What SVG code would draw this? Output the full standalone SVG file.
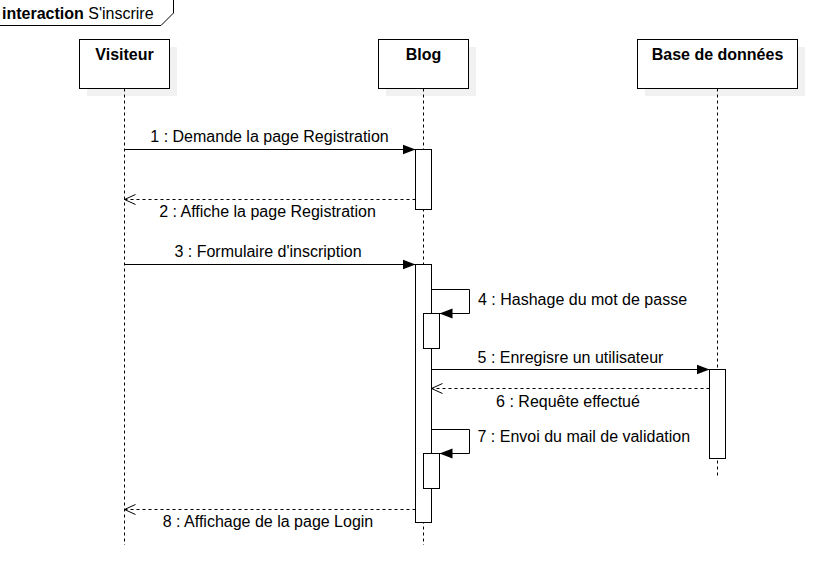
<svg xmlns="http://www.w3.org/2000/svg" width="819" height="564" viewBox="0 0 819 564">
  <style>
    text { font-family: "Liberation Sans", Arial, Helvetica, sans-serif; font-size: 16px; fill: #000; }
    .title { font-weight: bold; text-anchor: middle; }
    .lbl { text-anchor: middle; }
    .lbls { text-anchor: start; }
    .box { fill: #fff; stroke: #000; stroke-width: 1; }
    .shadow { fill: #f1f1f1; stroke: none; }
    .life { stroke: #000; stroke-width: 1; stroke-dasharray: 3 3; fill: none; }
    .act { fill: #fff; stroke: #000; stroke-width: 1; }
    .msg { stroke: #000; stroke-width: 1; fill: none; marker-end: url(#block); }
    .ret { stroke: #000; stroke-width: 1; fill: none; stroke-dasharray: 3 3; marker-end: url(#open); }
  </style>
  <defs>
    <marker id="block" markerUnits="userSpaceOnUse" markerWidth="14" markerHeight="12" refX="13" refY="5" orient="auto" viewBox="0 0 14 10">
      <path d="M0,0 L13,5 L0,10 z" fill="#000" stroke="none"/>
    </marker>
    <marker id="open" markerUnits="userSpaceOnUse" markerWidth="14" markerHeight="14" refX="12" refY="6" orient="auto" viewBox="0 0 14 12">
      <path d="M1,1 L12,6 L1,11" fill="none" stroke="#000" stroke-width="1" stroke-dasharray="none"/>
    </marker>
  </defs>

  <rect width="819" height="564" fill="#fff"/>

  <g id="frame">
    <path d="M-1,-1 L173.5,-1 L173.5,13 L161,25.5 L-1,25.5 Z" fill="#fff" stroke="#000" stroke-width="1"/>
    <text x="2" y="18.5"><tspan font-weight="bold">interaction</tspan> S'inscrire</text>
  </g>

  <g id="visiteur">
    <rect class="shadow" x="87" y="47" width="90" height="49"/>
    <line class="life" x1="124.5" y1="88.5" x2="124.5" y2="545"/>
    <rect class="box" x="79.5" y="39.5" width="90" height="49"/>
    <text class="title" x="124.5" y="60">Visiteur</text>
  </g>

  <g id="blog">
    <rect class="shadow" x="386" y="47" width="90" height="49"/>
    <line class="life" x1="423.5" y1="88.5" x2="423.5" y2="545"/>
    <rect class="box" x="378.5" y="39.5" width="90" height="49"/>
    <text class="title" x="423.5" y="60">Blog</text>
  </g>

  <g id="bdd">
    <rect class="shadow" x="645" y="47" width="160" height="49"/>
    <line class="life" x1="717.5" y1="88.5" x2="717.5" y2="476"/>
    <rect class="box" x="637.5" y="39.5" width="160" height="49"/>
    <text class="title" x="717.5" y="60">Base de données</text>
  </g>

  <g id="activations">
    <rect class="act" x="415.5" y="149.5" width="16" height="60"/>
    <rect class="act" x="415.5" y="264.5" width="16" height="258"/>
    <rect class="act" x="423.5" y="313.5" width="16" height="35"/>
    <rect class="act" x="423.5" y="453.5" width="16" height="35"/>
    <rect class="act" x="709.5" y="369.5" width="16" height="89"/>
  </g>

  <g id="connectors">
    <line class="msg" x1="124.5" y1="149.5" x2="415.5" y2="149.5"/>
    <line class="ret" x1="415.5" y1="199.5" x2="124.5" y2="199.5"/>
    <line class="msg" x1="124.5" y1="264.5" x2="415.5" y2="264.5"/>
    <path class="msg" d="M431.5,289.5 H469.5 V313.5 H439.5"/>
    <line class="msg" x1="431.5" y1="369.5" x2="709.5" y2="369.5"/>
    <line class="ret" x1="709.5" y1="388.5" x2="431.5" y2="388.5"/>
    <path class="msg" d="M431.5,429.5 H469.5 V453.5 H439.5"/>
    <line class="ret" x1="415.5" y1="509.5" x2="124.5" y2="509.5"/>
  </g>

  <g id="labels">
    <text class="lbl" x="269.5" y="142">1 : Demande la page Registration</text>
    <text class="lbl" x="267.5" y="217">2 : Affiche la page Registration</text>
    <text class="lbl" x="268" y="256.5">3 : Formulaire d'inscription</text>
    <text class="lbls" x="478" y="305">4 : Hashage du mot de passe</text>
    <text class="lbl" x="570.5" y="362.5">5 : Enregisre un utilisateur</text>
    <text class="lbl" x="568" y="407">6 : Requête effectué</text>
    <text class="lbls" x="477.5" y="442">7 : Envoi du mail de validation</text>
    <text class="lbl" x="268" y="527">8 : Affichage de la page Login</text>
  </g>
</svg>
